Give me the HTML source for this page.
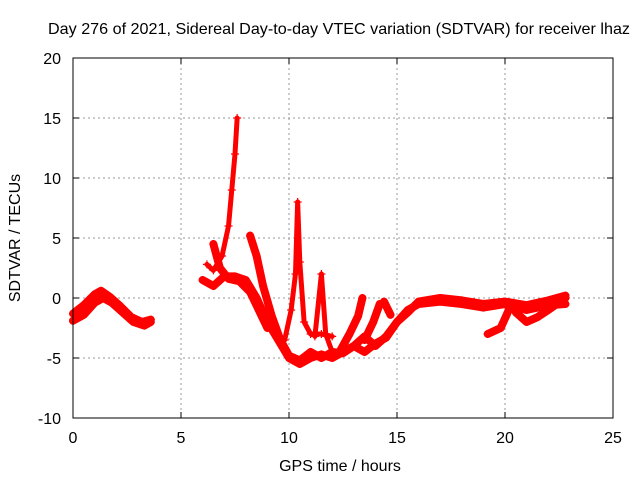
<!DOCTYPE html>
<html><head><meta charset="utf-8"><style>
body{margin:0;background:#fff}
svg{display:block;font-family:"Liberation Sans",sans-serif}
</style></head><body>
<svg id="chart" width="640" height="480" viewBox="0 0 640 480">
<rect width="640" height="480" fill="#fff"/>
<text x="339" y="34" font-size="16" text-anchor="middle" fill="#000" textLength="582" lengthAdjust="spacingAndGlyphs">Day 276 of 2021, Sidereal Day-to-day VTEC variation (SDTVAR) for receiver lhaz</text>
<g id="grid"></g>
<g id="axes"></g>
<g id="series"></g>
<rect x="73" y="58" width="540" height="360" fill="none" stroke="#000" stroke-width="1"/>
<text x="340" y="471" font-size="16" text-anchor="middle">GPS time / hours</text>
<text transform="translate(20,238) rotate(-90)" font-size="16" text-anchor="middle">SDTVAR / TECUs</text>
</svg>
<script>
const xTicks=[0,5,10,15,20,25];
const yTicks=[-10,-5,0,5,10,15,20];
const trace1=[[0,-1.3],[0.5,-0.6],[1,0.3],[1.3,0.6],[1.7,0.1],[2.2,-0.7],[2.7,-1.6],[3.2,-2],[3.6,-1.8]];
const trace2=[[0,-1.9],[0.5,-1.4],[1,-0.4],[1.4,0],[1.8,-0.4],[2.3,-1.2],[2.8,-2],[3.3,-2.3],[3.6,-2]];
const trace3=[[6.2,2.8],[6.5,2.3],[6.9,3.5],[7.2,6],[7.35,9],[7.5,12],[7.6,15]];
const trace4=[[6,1.5],[6.5,1],[7,1.8],[7.5,1.8],[8,1.5],[8.5,0],[9,-2],[9.5,-3.5],[10,-5],[10.5,-5.5],[11,-5],[11.5,-4.7],[12,-5],[12.5,-4.5],[13,-4],[13.5,-3.2],[14,-4],[14.5,-3.2],[15,-2],[15.5,-1],[16,-0.5],[17,-0.3],[18,-0.5],[19,-0.8],[20,-0.5],[21,-1],[22,-0.6],[22.8,-0.5]];
const trace5=[[6.5,4.5],[6.8,2.5],[7.2,1.6],[7.7,1.4],[8.2,0.5],[8.6,-1],[9,-2.5]];
const trace6=[[8.2,5.2],[8.5,3.5],[8.8,1],[9.2,-1.5],[9.6,-3.5],[10,-4.8],[10.5,-5.2],[11,-4.5],[11.5,-5],[12,-4.5],[12.5,-4.6],[13,-4],[13.5,-4.5],[14,-3.8],[14.5,-3.3],[15,-2],[15.5,-1.2],[16,-0.3],[17,0],[18,-0.2],[19,-0.5],[20,-0.3],[21,-0.6],[22,-0.2],[22.8,0.2]];
const trace7=[[9.8,-3.5],[10.1,-1],[10.3,2],[10.4,8],[10.5,3],[10.7,-2],[11,-3],[11.5,-3],[12,-3.2]];
const trace8=[[11.2,-3.2],[11.5,2],[11.7,-3],[12,-4.5]];
const trace9=[[12.4,-4.3],[12.8,-3],[13.2,-1.5],[13.4,0]];
const trace10=[[13.5,-3.5],[13.9,-2],[14.2,-0.5]];
const trace11=[[14.4,-0.3],[14.7,-1.4]];
const trace12=[[19.2,-3],[19.8,-2.5],[20.3,-0.5]];
const trace13=[[20.5,-1.2],[21,-2],[21.5,-1.6],[22,-1],[22.8,0]];
const traces=[trace1,trace2,trace3,trace4,trace5,trace6,trace7,trace8,trace9,trace10,trace11,trace12,trace13];
const NS="http://www.w3.org/2000/svg";
function xs(h){return 73+h*21.6;}
function ys(v){return 298-v*12;}
const grid=document.getElementById('grid'),axes=document.getElementById('axes'),ser=document.getElementById('series');
function mk(tag,attrs,parent){const e=document.createElementNS(NS,tag);for(const k in attrs)e.setAttribute(k,attrs[k]);parent.appendChild(e);return e;}
xTicks.forEach(t=>{const x=xs(t);
 if(t>0&&t<25){const g=mk('line',{x1:x,x2:x,y1:58,y2:418,stroke:'#999','stroke-dasharray':'2,3'},grid);
 
 }
 mk('line',{x1:x,x2:x,y1:418,y2:412,stroke:'#000'},axes);mk('line',{x1:x,x2:x,y1:58,y2:64,stroke:'#000'},axes);
 const tx=mk('text',{x:x,y:443,'font-size':16,'text-anchor':'middle'},axes);tx.textContent=t;
 
 });
yTicks.forEach(t=>{const y=ys(t);
 if(t>-10&&t<20){const g=mk('line',{x1:73,x2:613,y1:y,y2:y,stroke:'#999','stroke-dasharray':'2,3'},grid);
 
 }
 mk('line',{x1:73,x2:79,y1:y,y2:y,stroke:'#000'},axes);mk('line',{x1:613,x2:607,y1:y,y2:y,stroke:'#000'},axes);
 const tx=mk('text',{x:61,y:y+6,'font-size':16,'text-anchor':'end'},axes);tx.textContent=t;
 
 });
traces.forEach((tr,i)=>{
 const thin=(tr===trace3||tr===trace7||tr===trace8);
 const pl=mk('polyline',{points:tr.map(p=>xs(p[0])+','+ys(p[1])).join(' '),fill:'none',stroke:'#f00','stroke-width':thin?5:8,'stroke-linejoin':'round','stroke-linecap':'round'},ser);
 
 
 tr.forEach(p=>{const x=xs(p[0]),y=ys(p[1]);
  const m=mk('path',{d:`M${x-4},${y}H${x+4}M${x},${y-4}V${y+4}`,stroke:'#f00','stroke-width':1.2},ser);
  
  });
});
</script>
</body></html>
